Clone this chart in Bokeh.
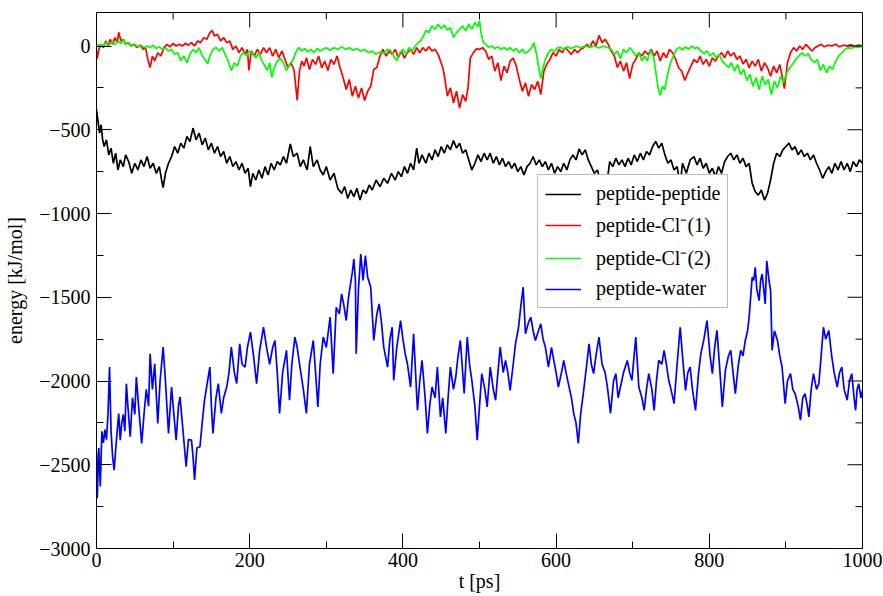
import math
import numpy as np
from bokeh.plotting import figure
from bokeh.models import Range1d, SingleIntervalTicker
from bokeh.embed import file_html
from bokeh.resources import INLINE

# ---- data (t in ps, energy in kJ/mol) ----
t_pp = [0,2,4,6,8,10,13,16,19,22,25,28,31,35,38,42,46,50,54,58,62,66,70,74,78,82,85,87,90,94,98,102,106,110,114,118,122,126,130,134,138,142,146,150,154,158,162,166,170,174,178,182,186,190,194,198,201,204,208,212,216,220,224,228,232,236,240,244,248,253,257,262,266,270,275,279,283,288,292,296,300,305,310,315,320,324,328,332,336,340,344,348,352,356,360,365,370,375,380,385,390,394,398,402,406,410,414,418,421,425,430,434,438,442,446,450,454,458,462,466,470,474,478,482,486,490,494,498,502,506,510,514,518,522,526,530,534,538,542,546,550,554,558,562,566,570,574,578,582,586,590,594,598,602,606,610,614,618,622,626,630,634,638,642,646,650,654,658,662,666,670,674,678,682,686,690,694,698,702,706,710,714,718,722,726,730,734,738,742,746,750,754,758,762,765,770,775,780,784,788,792,796,800,804,808,812,816,820,824,828,832,836,840,844,848,852,856,860,864,868,872,876,880,884,888,892,896,900,904,908,912,916,920,924,928,932,936,940,944,948,952,956,960,964,968,972,976,980,984,988,992,996,1000]
e_pp = [-380,-450,-520,-470,-560,-600,-560,-650,-610,-700,-640,-740,-680,-720,-650,-690,-760,-700,-740,-680,-720,-660,-730,-700,-760,-720,-800,-845,-760,-700,-660,-600,-640,-580,-610,-540,-570,-490,-560,-520,-590,-550,-620,-580,-640,-600,-660,-630,-700,-660,-720,-690,-740,-700,-760,-730,-840,-760,-800,-740,-790,-720,-770,-700,-740,-690,-710,-660,-700,-585,-660,-640,-720,-680,-740,-600,-720,-680,-740,-770,-720,-800,-760,-850,-880,-840,-910,-860,-900,-850,-920,-860,-880,-830,-860,-800,-840,-790,-820,-760,-800,-750,-780,-720,-760,-700,-740,-610,-700,-650,-700,-640,-680,-620,-660,-600,-640,-590,-620,-565,-610,-580,-640,-620,-680,-740,-700,-650,-690,-640,-680,-640,-700,-660,-710,-670,-720,-690,-730,-700,-750,-720,-770,-720,-700,-660,-710,-680,-720,-690,-740,-700,-760,-720,-750,-700,-740,-680,-650,-680,-615,-650,-620,-680,-720,-760,-740,-810,-770,-830,-690,-720,-670,-710,-680,-720,-670,-710,-650,-690,-640,-680,-630,-650,-600,-570,-610,-580,-650,-700,-680,-740,-720,-830,-700,-760,-680,-660,-710,-670,-730,-700,-760,-730,-780,-720,-760,-690,-660,-640,-680,-650,-700,-670,-720,-700,-820,-870,-890,-860,-920,-880,-800,-700,-640,-660,-620,-600,-580,-620,-600,-650,-620,-660,-640,-680,-650,-700,-740,-790,-750,-720,-760,-700,-740,-690,-740,-700,-750,-690,-720,-680,-700]

t_cl1 = [0,1,3,6,9,12,15,18,21,24,27,29,32,35,38,41,45,49,53,57,61,64,67,70,73,76,80,84,88,92,96,100,104,108,112,116,120,124,128,132,136,140,144,148,151,154,158,162,166,170,174,178,182,186,190,194,197,199,202,206,210,214,218,222,226,230,234,238,242,246,250,254,258,262,265,268,271,274,278,282,286,290,294,298,302,306,310,314,318,322,326,330,334,338,342,346,350,354,358,362,366,370,374,378,382,386,390,394,398,402,406,410,414,418,422,426,430,434,438,442,446,449,452,455,458,462,466,470,474,478,482,485,488,492,496,500,504,508,512,516,520,524,528,532,536,540,544,548,552,556,560,564,568,572,576,580,584,588,592,596,600,604,608,612,616,620,624,628,632,636,640,644,648,652,656,660,664,668,672,676,680,684,688,692,696,700,704,708,712,716,720,724,728,732,736,740,744,748,752,756,760,764,768,772,776,780,784,788,792,796,800,804,808,812,816,820,824,828,832,836,840,844,848,852,856,860,864,868,872,876,880,884,888,892,896,898,902,906,910,914,918,922,926,930,934,938,942,946,950,955,960,965,970,975,980,985,990,995,1000]
e_cl1 = [-30,-75,-20,10,-10,30,0,40,10,50,20,82,30,40,10,20,0,10,-10,5,-20,-10,-80,-128,-60,-90,-40,-60,-10,10,-5,15,0,10,0,15,5,20,0,30,20,50,40,80,92,60,70,30,50,20,30,-20,0,-40,-10,-50,-20,-146,-30,-60,-20,-50,-10,-40,-10,-60,-20,-70,-30,-80,-130,-100,-146,-325,-150,-90,-120,-70,-140,-80,-110,-60,-130,-90,-146,-80,-110,-60,-130,-190,-260,-200,-300,-240,-310,-250,-325,-270,-240,-140,-128,-60,-20,-60,-30,-50,-20,-70,-30,-72,-40,-20,-50,-10,-40,-10,-30,-5,-30,-20,-50,-90,-128,-200,-300,-250,-340,-270,-370,-290,-330,-250,-72,-40,-17,-20,-10,-30,-80,-60,-150,-100,-206,-120,-160,-90,-72,-120,-200,-270,-220,-300,-230,-260,-210,-290,-150,-107,-80,-40,-60,-20,-40,-10,-30,-50,-20,-40,-20,-10,10,-10,30,0,63,20,40,10,-30,-60,-128,-90,-150,-100,-195,-110,-80,-40,-60,-30,-50,-20,-60,-30,-90,-40,-70,-20,-40,-80,-130,-150,-206,-160,-120,-80,-100,-60,-110,-80,-120,-70,-90,-60,-40,-70,-30,-60,-40,-80,-60,-107,-80,-130,-90,-120,-80,-150,-100,-130,-180,-120,-160,-110,-200,-255,-100,-40,-10,-30,0,-20,10,-10,-30,-10,0,10,-5,5,0,10,-5,5,0,8,-3,5,0]

t_cl2 = [0,4,8,12,16,20,24,28,32,35,38,42,46,50,54,58,62,66,70,74,78,82,86,90,94,98,102,106,110,114,118,122,126,130,134,138,142,145,148,152,156,160,164,168,172,176,180,184,188,192,196,200,204,208,212,216,220,223,226,229,232,236,240,244,248,252,256,260,264,268,272,276,280,284,288,292,296,300,305,310,315,320,325,330,335,340,345,350,355,360,365,370,375,380,384,388,392,396,400,404,408,412,416,419,423,427,430,434,438,442,446,450,454,458,462,466,470,474,478,482,486,490,494,498,500,502,505,508,512,516,520,524,528,532,536,540,544,548,552,556,560,564,568,571,574,577,580,583,586,590,594,598,602,606,610,614,620,626,632,638,644,650,656,662,668,672,676,680,684,688,692,696,700,704,708,712,716,719,723,727,730,733,736,739,742,745,749,753,757,761,765,769,773,777,781,785,789,793,797,801,805,809,813,817,821,825,829,833,837,841,845,849,853,857,861,865,869,873,877,881,885,889,893,897,901,905,909,913,917,921,925,929,933,937,941,945,949,953,957,961,965,969,973,977,981,985,990,995,1000]
e_cl2 = [0,10,0,20,5,25,10,30,15,40,10,20,0,10,-5,5,-10,0,-10,5,-15,-5,-20,-10,-30,-20,-50,-40,-87,-60,-100,-50,-20,-40,-10,-60,-80,-107,-60,-20,-8,-30,-10,-50,-90,-146,-100,-120,-60,-40,-60,-30,-50,-70,-40,-90,-120,-146,-100,-187,-130,-90,-72,-100,-146,-110,-87,-40,-8,-30,-15,-35,-20,-40,-15,-30,-20,-10,-25,-10,-20,-5,-20,-10,-25,-15,-30,-20,-40,-30,-50,-35,-45,-20,-27,-60,-87,-40,-20,-50,-10,-30,0,15,30,60,93,80,120,100,130,105,125,95,110,51,80,100,120,90,130,100,140,115,152,80,21,10,-8,0,-15,-5,-20,-8,-25,-10,-30,-15,-40,-20,-45,-30,-10,20,-40,-120,-195,-130,-80,-40,-20,-35,-10,-8,-20,-5,-15,0,-10,0,-8,0,-12,0,-10,-20,-50,-30,-76,-20,-40,-10,-30,-60,-40,-87,-60,-90,-27,-60,-150,-247,-295,-240,-260,-180,-107,-60,-20,-8,-25,-5,-20,0,-15,-8,-30,-45,-30,-60,-40,-70,-50,-90,-110,-128,-100,-150,-110,-170,-140,-206,-170,-240,-190,-260,-180,-230,-200,-290,-210,-250,-180,-220,-160,-130,-107,-80,-60,-40,-60,-45,-80,-100,-80,-146,-110,-160,-120,-140,-90,-60,-40,-20,-10,-15,-5,-8,0]

t_w = [0,1,3,5,7,9,11,13,15,17,19,21,23,25,27,29,31,33,35,37,39,41,44,47,50,52,55,59,62,65,68,70,73,76,80,83,87,90,94,98,101,104,107,109,113,117,120,124,126,128,131,135,138,141,145,148,150,152,156,159,163,166,170,173,176,180,183,187,190,194,197,201,205,209,213,218,222,226,230,233,236,239,243,248,252,255,259,262,265,270,274,278,283,286,289,292,296,300,305,309,313,317,320,323,326,329,331,334,336,338,339,342,345,348,351,354,358,362,366,369,372,375,380,383,386,388,392,397,400,403,406,410,414,419,422,425,429,432,435,438,442,445,449,452,456,459,462,466,469,472,475,480,484,487,490,494,497,500,503,507,510,514,518,521,524,527,531,534,537,540,544,547,551,554,557,560,564,567,570,573,577,580,583,586,590,594,597,600,603,607,610,613,616,620,623,626,629,632,636,640,643,646,649,652,656,660,664,667,671,675,678,681,684,688,693,696,699,704,708,712,715,718,721,725,728,731,734,738,741,744,747,750,754,758,762,765,769,772,775,778,782,786,789,793,797,801,804,807,810,814,817,821,825,828,831,834,838,841,844,847,850,852,854,856,858,860,862,865,867,869,871,873,875,878,880,882,885,889,892,895,899,902,906,909,912,916,919,922,925,928,930,933,936,940,943,946,949,952,956,958,960,963,967,970,973,976,980,983,986,989,991,993,995,998,1000]
e_w = [-2420,-2700,-2400,-2630,-2300,-2370,-2290,-2350,-2200,-1917,-2300,-2450,-2532,-2413,-2300,-2194,-2353,-2250,-2200,-2300,-2016,-2150,-2333,-2100,-2200,-1976,-2150,-2373,-2200,-2050,-2150,-1837,-2050,-1897,-2254,-2000,-1798,-2000,-2313,-2036,-2200,-2353,-2150,-2095,-2300,-2512,-2350,-2353,-2450,-2591,-2400,-2393,-2250,-2115,-2000,-1917,-2150,-2313,-2100,-2016,-2194,-2100,-2036,-1950,-1798,-1950,-2016,-1778,-1900,-1917,-1800,-1708,-1850,-2016,-1817,-1679,-1798,-1900,-1800,-1758,-1950,-2194,-1950,-1817,-2115,-1900,-1738,-1800,-1897,-2050,-2194,-1900,-1758,-1950,-2155,-1900,-1738,-1800,-1619,-1956,-1560,-1600,-1480,-1550,-1639,-1500,-1440,-1350,-1272,-1400,-1837,-1450,-1242,-1400,-1252,-1380,-1440,-1758,-1600,-1540,-1650,-1798,-1917,-1750,-1679,-1996,-1800,-1639,-1750,-1837,-1900,-2036,-1718,-2175,-2000,-1877,-2100,-2313,-2150,-2036,-2100,-1917,-2214,-2100,-2313,-2100,-1917,-2050,-1976,-1850,-1758,-2075,-1738,-1900,-1996,-2150,-2353,-2150,-1956,-2050,-2155,-1917,-2050,-2115,-1950,-1798,-1950,-1877,-1950,-2056,-1900,-1778,-1679,-1550,-1440,-1718,-1650,-1619,-1700,-1758,-1700,-1659,-1750,-1798,-1917,-1800,-1877,-1950,-2036,-1950,-1877,-1950,-2016,-2100,-2194,-2250,-2373,-2200,-2056,-1900,-1778,-1900,-1956,-1850,-1738,-1900,-1950,-2036,-2194,-2000,-1956,-2100,-2036,-1950,-1877,-1950,-1996,-1738,-2036,-2100,-2175,-2050,-1956,-2050,-2175,-2000,-1877,-1900,-1817,-1900,-1996,-2050,-2135,-1900,-1679,-1850,-2056,-1950,-1917,-2050,-2175,-1950,-1837,-1750,-1639,-1850,-1956,-1800,-1698,-1950,-2155,-1936,-1850,-1817,-1950,-2075,-1900,-1817,-1850,-1758,-1700,-1619,-1500,-1381,-1400,-1321,-1450,-1520,-1400,-1361,-1450,-1540,-1282,-1400,-1460,-1817,-1700,-1758,-1850,-1917,-2135,-2000,-1956,-2050,-2075,-2150,-2234,-2100,-2075,-2150,-2214,-2050,-1956,-2050,-2016,-1850,-1679,-1750,-1698,-1780,-1857,-1950,-2036,-1950,-1917,-2050,-2115,-2000,-1956,-2100,-2175,-2050,-2016,-2100,-2056]

labels = ["peptide-peptide", "peptide-Cl\u207b(1)", "peptide-Cl\u207b(2)", "peptide-water"]
colors = ["#000000", "#ff0000", "#00ff00", "#0000ff"]

X_MIN, X_MAX = 0, 1000
Y_MIN, Y_MAX = -3000, 200
FONT = "'Liberation Serif'"

p = figure(width=883, height=596, output_backend="svg", toolbar_location=None,
           x_range=Range1d(X_MIN, X_MAX), y_range=Range1d(Y_MIN, Y_MAX),
           min_border_left=96, min_border_right=21, min_border_top=12, min_border_bottom=48,
           x_axis_label="t [ps]", y_axis_label="energy [kJ/mol]")
p.grid.visible = False
p.outline_line_color = "black"
p.outline_line_width = 1
p.background_fill_color = "white"
p.border_fill_color = "white"

series = [(t_pp, e_pp), (t_cl1, e_cl1), (t_cl2, e_cl2), (t_w, e_w)]
for (tx, ey), lab, col in zip(series, labels, colors):
    p.line(tx, ey, line_color=col, line_width=1.7, legend_label=lab)

for ax in (p.xaxis[0], p.yaxis[0]):
    ax.major_tick_in = 15
    ax.major_tick_out = 0
    ax.minor_tick_in = 7
    ax.minor_tick_out = 0
    ax.major_tick_line_color = "black"
    ax.minor_tick_line_color = "black"
    ax.axis_line_color = "black"
    ax.major_label_text_font = FONT
    ax.major_label_text_font_size = "20px"
    ax.major_label_text_color = "black"
    ax.axis_label_text_font = FONT
    ax.axis_label_text_font_size = "20px"
    ax.axis_label_text_font_style = "normal"
    ax.axis_label_text_color = "black"

p.xaxis.ticker = SingleIntervalTicker(interval=200, num_minor_ticks=2)
p.yaxis.ticker = SingleIntervalTicker(interval=500, num_minor_ticks=2)
p.xaxis.major_label_standoff = 4
p.xaxis.axis_label_standoff = 0
p.yaxis.major_label_standoff = 6
p.yaxis.axis_label_standoff = 10

# mirrored inward ticks on the top and right frame edges
top_major = np.arange(X_MIN, X_MAX + 1, 200)
top_minor = np.arange(X_MIN + 100, X_MAX, 200)
right_major = np.arange(Y_MIN, Y_MAX, 500)
right_minor = np.arange(Y_MIN + 250, Y_MAX, 500)
p.ray(x=top_major, y=Y_MAX, length=15, angle=-math.pi / 2, length_units="screen",
      line_color="black", line_width=1)
p.ray(x=top_minor, y=Y_MAX, length=7, angle=-math.pi / 2, length_units="screen",
      line_color="black", line_width=1)
p.ray(x=X_MAX, y=right_major, length=15, angle=math.pi, length_units="screen",
      line_color="black", line_width=1)
p.ray(x=X_MAX, y=right_minor, length=7, angle=math.pi, length_units="screen",
      line_color="black", line_width=1)

lg = p.legend[0]
lg.location = (441, 240)
lg.margin = 0
lg.padding = 7
lg.spacing = 6
lg.glyph_width = 36
lg.glyph_height = 22
lg.label_height = 22
lg.label_standoff = 15
lg.label_text_font = FONT
lg.label_text_font_size = "20px"
lg.label_text_color = "black"
lg.border_line_color = "#777777"
lg.border_line_width = 1.5
lg.background_fill_color = "white"
lg.background_fill_alpha = 1.0

open("out.html", "w").write(file_html(p, INLINE))
